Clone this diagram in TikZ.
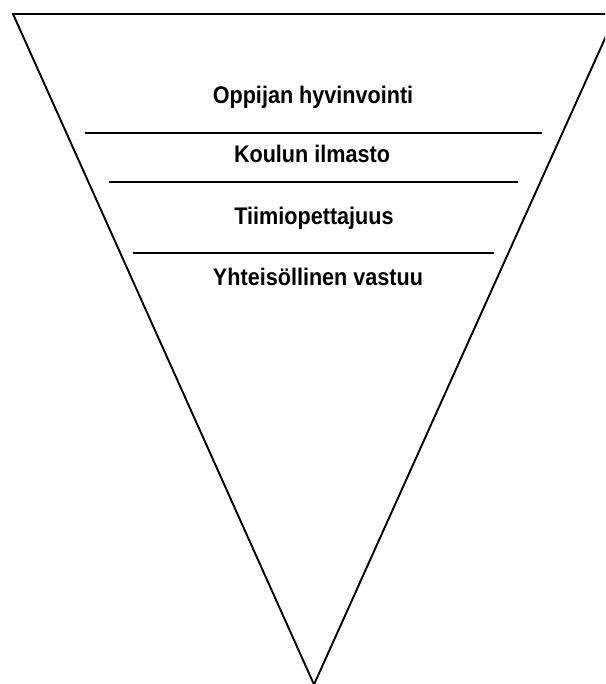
\documentclass[tikz,border=0pt]{standalone}
\usepackage{fontspec}
\setmainfont[FakeStretch=0.9,BoldFeatures={FakeStretch=0.9}]{Liberation Sans}
\begin{document}
\begin{tikzpicture}[x=1pt,y=-1pt,
  edge/.style={line width=1.9pt,line join=miter},
  sep/.style={line width=1.9pt},
  lbl/.style={anchor=base,inner sep=0pt,font=\fontsize{24}{28}\selectfont\bfseries}]
\useasboundingbox (0,0) rectangle (605,684);
\clip (0,0) rectangle (605,684);
\coordinate (tl) at (13,14);
\coordinate (tr) at (616,14);
\coordinate (ap) at (314,684.5);
\draw[edge] (tl) -- (tr) -- (ap) -- cycle;
\node[lbl] (t1) at (313,104) {Oppijan hyvinvointi};
\node[lbl] (t2) at (312,163) {Koulun ilmasto};
\node[lbl] (t3) at (314,225) {Tiimiopettajuus};
\node[lbl] (t4) at (318,285) {Yhteisöllinen vastuu};
\draw[sep] (85,133) -- (542,133);
\draw[sep] (109,182) -- (518,182);
\draw[sep] (133,253) -- (494,253);
\end{tikzpicture}
\end{document}
